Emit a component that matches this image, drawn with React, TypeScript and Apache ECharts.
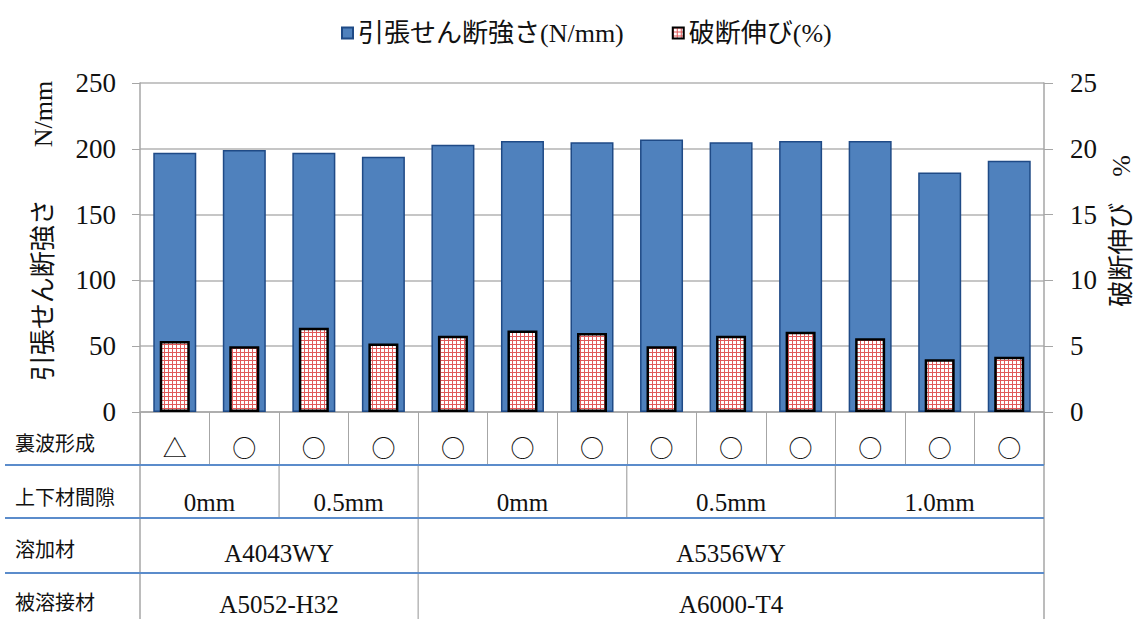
import React, { useEffect, useRef } from 'react';
import * as echarts from 'echarts';

const categories = ['No.1', 'No.2', 'No.3', 'No.4', 'No.5', 'No.6', 'No.7', 'No.8', 'No.9', 'No.10', 'No.11', 'No.12', 'No.13'];
const tensile = [197, 199, 197, 194, 203, 206, 205, 207, 205, 206, 206, 182, 191];
const elongation = [5.4, 5.0, 6.4, 5.2, 5.8, 6.2, 6.0, 5.0, 5.8, 6.1, 5.6, 4.0, 4.2];
const backBead = ['△', '○', '○', '○', '○', '○', '○', '○', '○', '○', '○', '○', '○'];

const rowLabels = ['裏波形成', '上下材間隙', '溶加材', '被溶接材'];
const gapLabels = ['0mm', '0.5mm', '0mm', '0.5mm', '1.0mm'];
const gapSpans = [2, 2, 3, 3, 3];
const fillerLabels = ['A4043WY', 'A5356WY'];
const fillerSpans = [4, 9];
const baseLabels = ['A5052-H32', 'A6000-T4'];
const baseSpans = [4, 9];

const seriesNames = ['引張せん断強さ(N/mm)', '破断伸び(%)'];
const leftAxisName = '引張せん断強さ　　N/mm';
const rightAxisName = '破断伸び　%';

const SERIF = 'Liberation Serif, Noto Sans CJK JP, serif';
const CJK = 'Noto Sans CJK JP, Noto Sans, sans-serif';

function makePattern() {
  const c = document.createElement('canvas');
  c.width = 4;
  c.height = 4;
  const ctx = c.getContext('2d')!;
  ctx.fillStyle = '#ffffff';
  ctx.fillRect(0, 0, 4, 4);
  ctx.fillStyle = '#e05a5a';
  ctx.fillRect(0, 0, 4, 1);
  ctx.fillRect(0, 0, 1, 4);
  return { image: c, repeat: 'repeat', imageWidth: 4, imageHeight: 4 } as any;
}

export default function App() {
  const ref = useRef<HTMLDivElement>(null);

  useEffect(() => {
    document.body.style.margin = '0';
    if (!ref.current) return;
    const chart = echarts.init(ref.current, undefined, { renderer: 'svg' });
    const gray = '#a6a6a6';

    const option: any = {
      animation: false,
      backgroundColor: '#ffffff',
      legend: {
        data: seriesNames,
        left: 336,
        top: 15,
        icon: 'rect',
        itemWidth: 11,
        itemHeight: 11,
        itemGap: 48,
        textStyle: { fontSize: 26, fontFamily: SERIF, color: '#111' },
      },
      grid: { left: 140, right: 94, top: 83, bottom: 207, containLabel: false, outerBoundsMode: 'none' },
      xAxis: [
        {
          type: 'category',
          data: categories,
          axisLine: { lineStyle: { color: gray, width: 1.5 } },
          axisTick: { show: true, length: 53, interval: 0, lineStyle: { color: gray, width: 1 } },
          axisLabel: {
            interval: 0,
            margin: 22,
            fontSize: 24,
            fontFamily: CJK,
            color: '#111',
            formatter: (_v: string, i: number) => backBead[i],
          },
        },
        { type: 'category', data: categories, show: false },
      ],
      yAxis: [
        {
          type: 'value',
          min: 0,
          max: 250,
          interval: 50,
          axisLine: { show: true, lineStyle: { color: gray, width: 1.5 } },
          axisTick: { show: true, length: 8, lineStyle: { color: gray } },
          axisLabel: { fontSize: 27, fontFamily: 'Liberation Serif', color: '#111', margin: 24 },
          splitLine: { show: true, lineStyle: { color: '#b3b3b3', width: 1.5 } },
        },
        {
          type: 'value',
          min: 0,
          max: 25,
          interval: 5,
          position: 'right',
          axisLine: { show: true, lineStyle: { color: gray, width: 1.5 } },
          axisTick: { show: true, length: 9, lineStyle: { color: gray } },
          axisLabel: { fontSize: 27, fontFamily: 'Liberation Serif', color: '#111', margin: 26 },
          splitLine: { show: false },
        },
      ],
      series: [
        {
          type: 'bar',
          name: seriesNames[0],
          data: tensile,
          xAxisIndex: 0,
          yAxisIndex: 0,
          barWidth: 43,
          z: 2,
          itemStyle: { color: '#4f81bd', borderColor: '#1f4a86', borderWidth: 1.5 },
        },
        {
          type: 'bar',
          name: seriesNames[1],
          data: elongation,
          xAxisIndex: 1,
          yAxisIndex: 1,
          barWidth: 30,
          z: 3,
          itemStyle: { color: makePattern(), borderColor: '#000000', borderWidth: 2.5 },
        },
      ],
    };
    chart.setOption(option);

    // Build the table beneath the plot from axis positions
    const c0 = chart.convertToPixel({ xAxisIndex: 0 }, categories[0]) as number;
    const c1 = chart.convertToPixel({ xAxisIndex: 0 }, categories[1]) as number;
    const cw = c1 - c0;
    const left = c0 - cw / 2;
    const right = left + cw * categories.length;
    const yBase = chart.convertToPixel({ yAxisIndex: 0 }, 0) as number;
    const rowH = [53, 53, 55, 46];
    const rowTop: number[] = [];
    let acc = yBase;
    rowH.forEach((h) => {
      rowTop.push(acc);
      acc += h;
    });
    const bottom = acc;
    const blue = '#5b8ccb';
    const els: any[] = [];

    [left, right].forEach((x) => {
      els.push({ type: 'line', shape: { x1: x, y1: yBase, x2: x, y2: bottom + 10 }, style: { stroke: gray, lineWidth: 1.5 } });
    });
    for (let r = 1; r < rowH.length; r++) {
      const y = rowTop[r];
      els.push({ type: 'line', shape: { x1: 5, y1: y, x2: right, y2: y }, style: { stroke: blue, lineWidth: 2 }, z: 10 });
    }
    const labelOffsets = [4, 5, 3, 5];
    rowLabels.forEach((t, r) => {
      els.push({
        type: 'text',
        x: 15,
        y: rowTop[r] + rowH[r] / 2 + labelOffsets[r],
        style: { text: t, fontSize: 20, fontFamily: CJK, fill: '#111', align: 'left', verticalAlign: 'middle' },
      });
    });

    const addSpans = (labels: string[], spans: number[], r: number, yOff: number) => {
      let start = 0;
      labels.forEach((t, i) => {
        const x1 = left + start * cw;
        const x2 = left + (start + spans[i]) * cw;
        els.push({
          type: 'text',
          x: (x1 + x2) / 2,
          y: rowTop[r] + rowH[r] / 2 + yOff,
          style: { text: t, fontSize: 25, fontFamily: SERIF, fill: '#111', align: 'center', verticalAlign: 'middle' },
        });
        if (i > 0) {
          els.push({ type: 'line', shape: { x1: x1, y1: rowTop[r], x2: x1, y2: rowTop[r] + rowH[r] }, style: { stroke: gray, lineWidth: 1.2 } });
        }
        start += spans[i];
      });
    };
    addSpans(gapLabels, gapSpans, 1, 11);
    addSpans(fillerLabels, fillerSpans, 2, 8);
    addSpans(baseLabels, baseSpans, 3, 8);

    els.push({
      type: 'text',
      x: 43,
      y: 231,
      rotation: Math.PI / 2,
      style: { text: leftAxisName, fontSize: 26, fontFamily: SERIF, fill: '#111', align: 'center', verticalAlign: 'middle' },
    });
    els.push({
      type: 'text',
      x: 1121,
      y: 231,
      rotation: Math.PI / 2,
      style: { text: rightAxisName, fontSize: 26, fontFamily: SERIF, fill: '#111', align: 'center', verticalAlign: 'middle' },
    });

    chart.setOption({ graphic: { elements: els } });

    return () => {
      chart.dispose();
    };
  }, []);

  return <div ref={ref} style={{ width: 1138, height: 619 }} />;
}
